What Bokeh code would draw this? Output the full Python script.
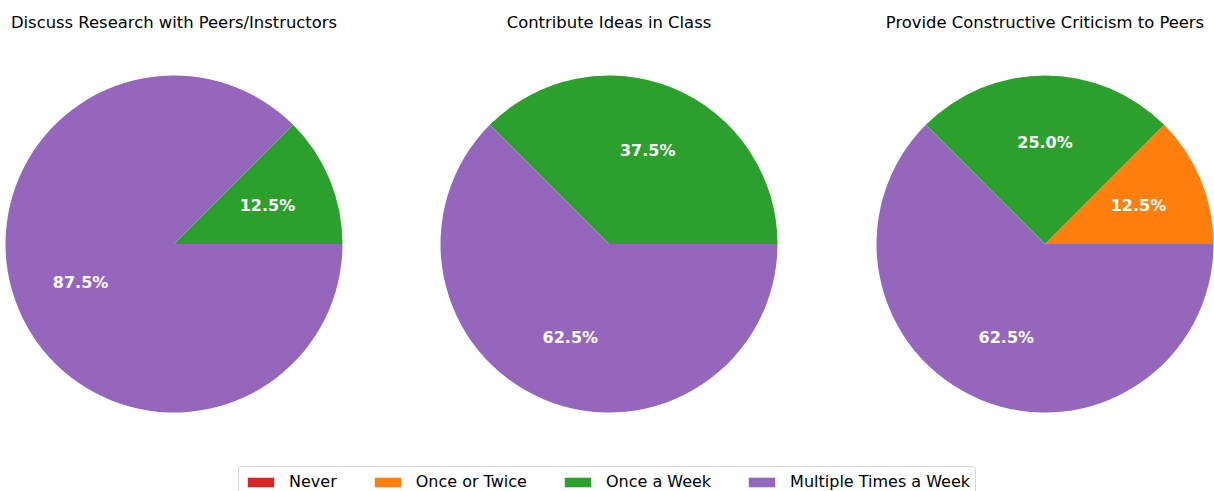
import math
from bokeh.plotting import figure
from bokeh.models import ColumnDataSource, Range1d, Legend, LegendItem
from bokeh.embed import file_html
from bokeh.resources import INLINE
from bokeh.core.properties import value

# ---- data ----
categories = ["Never", "Once or Twice", "Once a Week", "Multiple Times a Week"]
colors = ["#d62728", "#ff7f0e", "#2ca02c", "#9467bd"]
questions = [
    "Discuss Research with Peers/Instructors",
    "Contribute Ideas in Class",
    "Provide Constructive Criticism to Peers",
]
discuss_pct = [0.0, 0.0, 12.5, 87.5]
contribute_pct = [0.0, 0.0, 37.5, 62.5]
criticism_pct = [0.0, 12.5, 25.0, 62.5]
series = [discuss_pct, contribute_pct, criticism_pct]

# ---- layout ----
W, H = 1214, 491
centers_x = [173.5, 608.5, 1044.5]
center_y = H - 243.5
R = 168.5
FONT = "DejaVu Sans"

p = figure(width=W, height=H, x_range=Range1d(0, W), y_range=Range1d(0, H),
           output_backend="svg", toolbar_location=None, min_border=0)
p.axis.visible = False
p.grid.visible = False
p.outline_line_color = None
p.background_fill_color = "white"
p.border_fill_color = "white"

renderers = []
label_x, label_y, label_t = [], [], []
for ci, cat in enumerate(categories):
    xs, ys, sa, ea = [], [], [], []
    for qi, vals in enumerate(series):
        total = sum(vals)
        if vals[ci] <= 0:
            continue
        start = sum(vals[:ci]) / total * 2 * math.pi
        end = start + vals[ci] / total * 2 * math.pi
        xs.append(centers_x[qi]); ys.append(center_y); sa.append(start); ea.append(end)
        mid = (start + end) / 2
        label_x.append(centers_x[qi] + 0.6 * R * math.cos(mid))
        label_y.append(center_y + 0.6 * R * math.sin(mid))
        label_t.append(f"{vals[ci] / total * 100:.1f}%")
    if not xs:  # category absent from every pie: keep a legend entry only
        xs, ys, sa, ea = [float("nan")], [float("nan")], [0.0], [0.0]
    src = ColumnDataSource(dict(x=xs, y=ys, start=sa, end=ea))
    r = p.wedge(x="x", y="y", radius=R, start_angle="start", end_angle="end",
                fill_color=colors[ci], line_color=None, source=src)
    renderers.append(r)

p.text(x=label_x, y=label_y, text=label_t, text_align="center", text_baseline="middle",
       text_color="white", text_font=value(FONT), text_font_style="bold", text_font_size="16px")

p.text(x=centers_x, y=[H - 21.5] * 3, text=questions, text_align="center",
       text_baseline="middle", text_color="black", text_font=value(FONT), text_font_size="16.4px")

legend_kw = dict(
    items=[LegendItem(label=c, renderers=[r]) for c, r in zip(categories, renderers)],
    orientation="horizontal", location=(238, -6),
    glyph_width=33, glyph_height=12, label_standoff=12, spacing=34, padding=5, margin=0,
    label_height=13, label_text_font=FONT, label_text_font_size="16px",
    label_text_color="black",
    border_line_color="#d6d6d6", border_line_alpha=1.0, background_fill_alpha=0.8,
)
if "border_radius" in Legend.properties():
    legend_kw["border_radius"] = 4
legend = Legend(**legend_kw)
p.add_layout(legend)

open("out.html", "w").write(file_html(p, INLINE))
